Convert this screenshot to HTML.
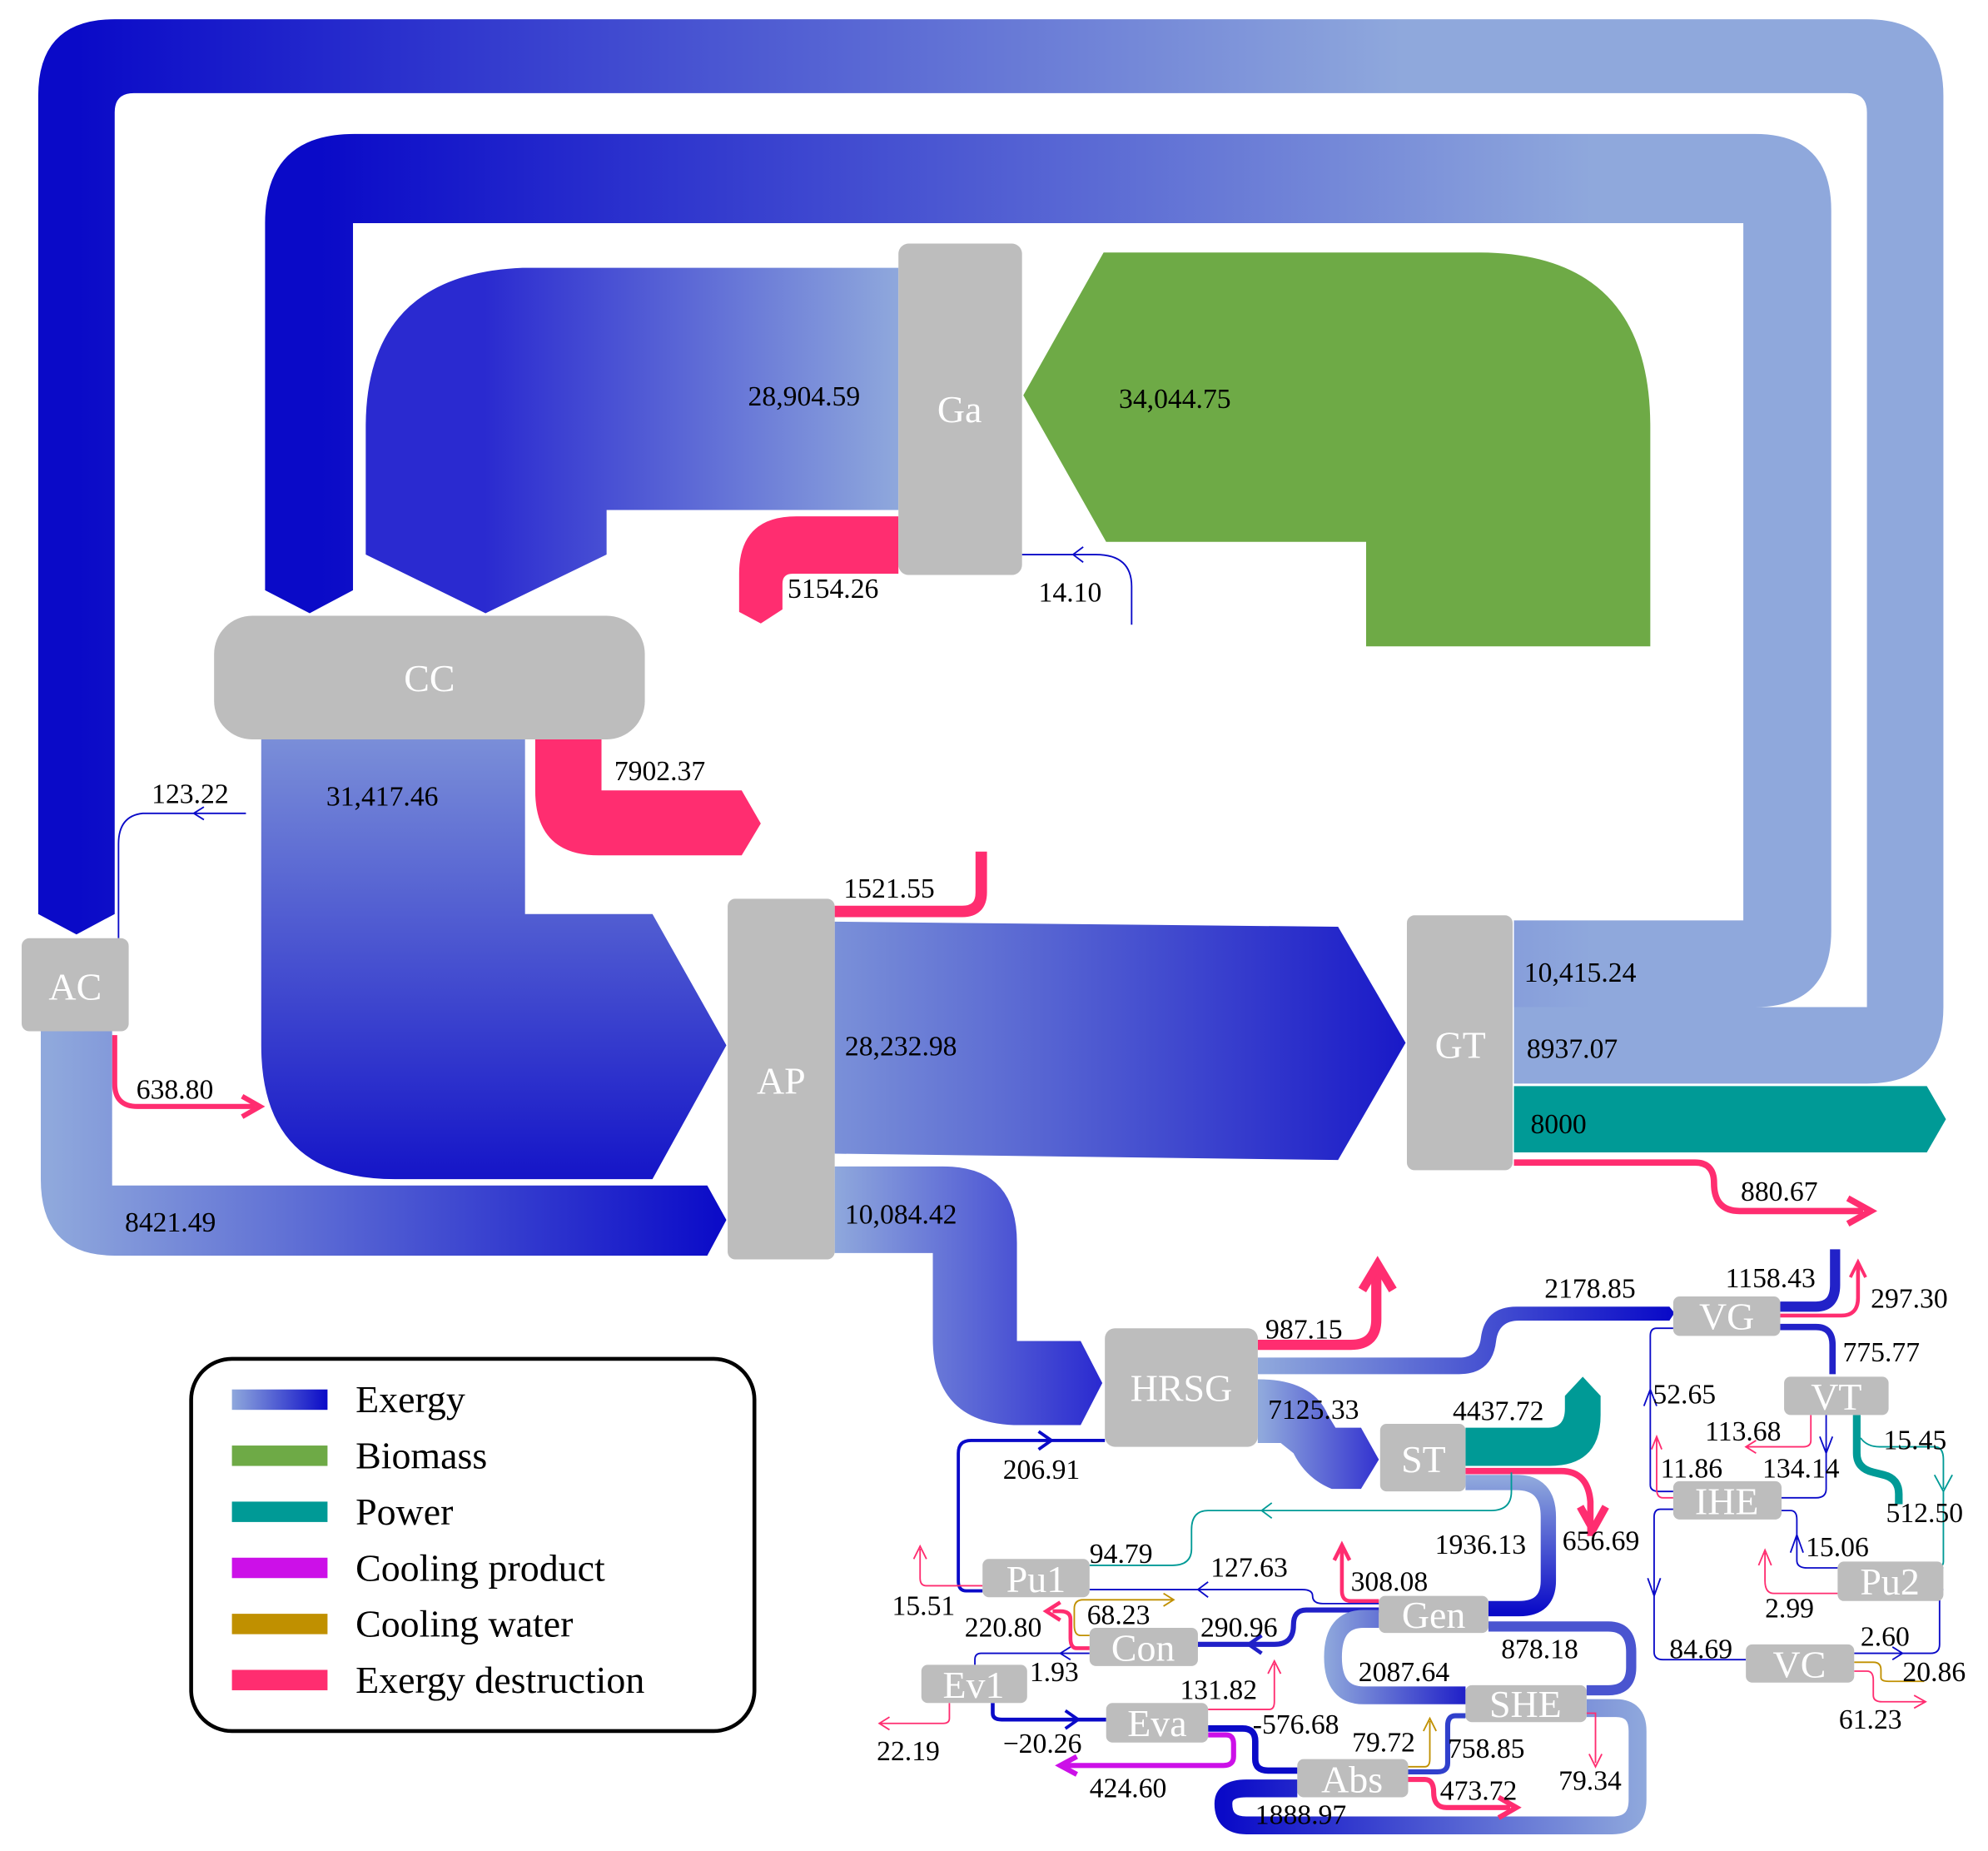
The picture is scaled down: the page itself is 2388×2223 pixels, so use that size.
<!DOCTYPE html>
<html><head><meta charset="utf-8"><style>
html,body{margin:0;padding:0;background:#fff;}
svg{display:block}
text{font-family:"Liberation Serif",serif;}
.l{font-size:22px;fill:#000}
.n{font-size:30px;fill:#fff}
.g{fill:#bdbdbd}
.t{fill:none;stroke-width:1.2}
</style></head><body>
<svg width="2388" height="2223" viewBox="0 0 1560 1452" xmlns="http://www.w3.org/2000/svg">
<defs>
<linearGradient id="hL" x1="0" x2="1" y1="0" y2="0"><stop offset="0" stop-color="#0a0ac8"/><stop offset="1" stop-color="#8fa8dc"/></linearGradient>
<linearGradient id="hR" x1="0" x2="1" y1="0" y2="0"><stop offset="0" stop-color="#8fa8dc"/><stop offset="1" stop-color="#0a0ac8"/></linearGradient>
<linearGradient id="o1" gradientUnits="userSpaceOnUse" x1="60" x2="1100" y1="0" y2="0"><stop offset="0" stop-color="#0a0ac8"/><stop offset="1" stop-color="#8fa8dc"/></linearGradient>
<linearGradient id="o2" gradientUnits="userSpaceOnUse" x1="250" x2="1250" y1="0" y2="0"><stop offset="0" stop-color="#0a0ac8"/><stop offset="1" stop-color="#8fa8dc"/></linearGradient>
<linearGradient id="ga" gradientUnits="userSpaceOnUse" x1="380" x2="705" y1="0" y2="0"><stop offset="0" stop-color="#2a2ad0"/><stop offset="1" stop-color="#8fa8dc"/></linearGradient>
<linearGradient id="cc" gradientUnits="userSpaceOnUse" x1="0" x2="0" y1="580" y2="925"><stop offset="0" stop-color="#7a8ed8"/><stop offset="1" stop-color="#1515c8"/></linearGradient>
<linearGradient id="ap" gradientUnits="userSpaceOnUse" x1="655" x2="1100" y1="0" y2="0"><stop offset="0" stop-color="#7a90d8"/><stop offset="1" stop-color="#1a1ac8"/></linearGradient>
<linearGradient id="ac" gradientUnits="userSpaceOnUse" x1="40" x2="570" y1="0" y2="0"><stop offset="0" stop-color="#8fa8dc"/><stop offset="1" stop-color="#0a0ac8"/></linearGradient>
<linearGradient id="hr" gradientUnits="userSpaceOnUse" x1="655" x2="865" y1="0" y2="0"><stop offset="0" stop-color="#8fa8dc"/><stop offset="1" stop-color="#2a2ad0"/></linearGradient>
<linearGradient id="vg" gradientUnits="userSpaceOnUse" x1="990" x2="1310" y1="0" y2="0"><stop offset="0" stop-color="#8fa8dc"/><stop offset="1" stop-color="#0a0ac8"/></linearGradient>
<linearGradient id="st" gradientUnits="userSpaceOnUse" x1="990" x2="1080" y1="0" y2="0"><stop offset="0" stop-color="#8fa8dc"/><stop offset="1" stop-color="#3535d0"/></linearGradient>
<linearGradient id="ge" gradientUnits="userSpaceOnUse" x1="0" x2="0" y1="1160" y2="1265"><stop offset="0" stop-color="#8fa8dc"/><stop offset="1" stop-color="#0a0ac8"/></linearGradient>
<linearGradient id="sh" gradientUnits="userSpaceOnUse" x1="960" x2="1290" y1="0" y2="0"><stop offset="0" stop-color="#0a0ac8"/><stop offset="1" stop-color="#8fa8dc"/></linearGradient>
<linearGradient id="gs" gradientUnits="userSpaceOnUse" x1="1040" x2="1150" y1="0" y2="0"><stop offset="0" stop-color="#8fa8dc"/><stop offset="1" stop-color="#2020c8"/></linearGradient>
</defs>

<path d="M1188,790 H1465 V88 Q1465,73 1450,73 H105 Q90,73 90,88 V717 L60,733 L30,717 V75 Q30,15 90,15 H1465 Q1525,15 1525,75 V790 Q1525,850 1465,850 H1188 Z" fill="url(#o1)"/>
<path d="M1188,722 H1368 V175 H277 V463 L243,481 L208,463 V175 Q208,105 278,105 H1377 Q1437,105 1437,165 V730 Q1437,790 1377,790 H1188 Z" fill="url(#o2)"/>
<path d="M866,198 H1160 Q1295,198 1295,335 V507 H1072 V425 H868 L803,310 Z" fill="#6eaa46"/>
<path d="M705,210 H410 Q287,215 287,335 V435 L381,481 L476,435 V400 H705 Z" fill="url(#ga)"/>
<path d="M705,405 H625 Q580,405 580,450 V480 L597,489 L614,478 V458 Q614,450 622,450 H705 Z" fill="#ff2d70"/>
<path class="t" d="M888,490 V460 Q888,435 860,435 H802 M850,429 L842,435 L850,441" stroke="#0a0ac8"/>
<path d="M205,580 H412 V717 H512 L570,820 L512,925 H310 Q205,925 205,820 Z" fill="url(#cc)"/>
<path d="M420,580 H472 V620 H582 L597,646 L582,671 H470 Q420,671 420,620 Z" fill="#ff2d70"/>
<path class="t" d="M193,638 H112 Q93,640 93,662 V736 M160,633 L152,638 L160,643" stroke="#0a0ac8"/>
<path d="M90,812 V850 Q90,868 108,868 H200" fill="none" stroke="#ff2d70" stroke-width="4"/>
<path d="M190,860 L204,868 L190,876" fill="none" stroke="#ff2d70" stroke-width="4"/>
<path d="M32,809 H88 V930 H555 L570,957 L555,985 H90 Q32,985 32,925 Z" fill="url(#ac)"/>
<path d="M655,715 H755 Q770,715 770,700 V668" fill="none" stroke="#ff2d70" stroke-width="9"/>
<path d="M655,723 L1050,727 L1103,818 L1050,910 L655,905 Z" fill="url(#ap)"/>
<path d="M1188,852 H1512 L1527,878 L1512,904 H1188 Z" fill="#009a96"/>
<path d="M1188,912 H1330 Q1345,912 1345,928 Q1345,950 1365,950 H1462" fill="none" stroke="#ff2d70" stroke-width="5"/>
<path d="M1450,940 L1468,950 L1450,960" fill="none" stroke="#ff2d70" stroke-width="5"/>
<path d="M655,915 H740 Q798,915 798,975 V1052 H848 L865,1085 L848,1118 H800 Q732,1118 732,1050 V983 H655 Z" fill="url(#hr)"/>

<path d="M987,1055 H1060 Q1080,1055 1080,1035 V998" fill="none" stroke="#ff2d70" stroke-width="8"/>
<path d="M1069,1012 L1081,992 L1093,1012" fill="none" stroke="#ff2d70" stroke-width="7"/>
<path d="M987,1065 H1145 Q1160,1065 1162,1050 Q1165,1025 1190,1025 H1310 L1314,1030 L1310,1036 H1192 Q1176,1036 1174,1052 Q1171,1078 1145,1078 H987 Z" fill="url(#vg)"/>
<path d="M987,1082 Q1030,1082 1042,1110 L1048,1120 H1068 L1082,1145 L1068,1168 H1045 Q1025,1160 1015,1140 L1005,1132 H987 Z" fill="url(#st)"/>
<path d="M1150,1120 H1215 Q1228,1120 1228,1105 V1095 L1242,1080 L1256,1095 V1110 Q1256,1150 1216,1150 H1150 Z" fill="#009a96"/>
<path d="M1150,1154 H1225 Q1246,1154 1248,1178 V1205" fill="none" stroke="#ff2d70" stroke-width="5"/>
<path d="M1240,1182 L1250,1200 L1260,1182" fill="none" stroke="#ff2d70" stroke-width="6"/>
<path d="M1150,1163 H1190 Q1215,1163 1215,1190 V1240 Q1215,1262 1192,1262 H1168" fill="none" stroke="url(#ge)" stroke-width="12"/>
<path class="t" d="M1186,1155 V1170 Q1186,1185 1170,1185 H948 Q935,1185 935,1200 V1215 Q935,1228 920,1228 H855 M998,1179 L990,1185 L998,1191" stroke="#009a96"/>
<path d="M1082,1256 H1060 Q1053,1256 1053,1248 V1215" fill="none" stroke="#ff2d70" stroke-width="3"/>
<path d="M1047,1224 L1053,1212 L1059,1224" fill="none" stroke="#ff2d70" stroke-width="3"/>
<path class="t" d="M1082,1258 H1038 Q1030,1258 1030,1252 Q1030,1247 1022,1247 H855 M948,1241 L940,1247 L948,1253" stroke="#0a0ac8" stroke-width="2"/>
<path d="M1082,1263 H1025 Q1015,1263 1015,1275 Q1015,1290 1000,1290 H940" fill="none" stroke="#2020c8" stroke-width="4"/>
<path d="M990,1283 L980,1290 L990,1297" fill="none" stroke="#2020c8" stroke-width="3"/>
<path d="M1082,1270 H1070 Q1046,1270 1046,1300 Q1046,1330 1070,1330 H1150" fill="none" stroke="url(#gs)" stroke-width="14"/>
<path d="M1168,1276 H1262 Q1280,1276 1280,1296 V1308 Q1280,1326 1262,1326 H1245" fill="none" stroke="#4a55d0" stroke-width="8"/>
<path d="M1245,1340 H1268 Q1285,1340 1285,1358 V1412 Q1285,1432 1265,1432 H978 Q960,1432 960,1415 Q960,1403 978,1403 H1018" fill="none" stroke="url(#sh)" stroke-width="14"/>
<path class="t" d="M1245,1344 H1252 V1383 M1247,1376 L1252,1386 L1257,1376" stroke="#ff2d70"/>
<path d="M1150,1346 H1142 Q1136,1346 1136,1354 V1383 Q1136,1390 1128,1390 H1105" fill="none" stroke="#3040cc" stroke-width="4"/>
<path class="t" d="M1105,1386 H1118 Q1122,1386 1122,1380 V1350 M1117,1358 L1122,1348 L1127,1358" stroke="#c09000"/>
<path d="M1105,1396 H1118 Q1125,1396 1125,1406 Q1125,1418 1135,1418 H1185" fill="none" stroke="#ff2d70" stroke-width="4"/>
<path d="M1176,1410 L1190,1418 L1176,1426" fill="none" stroke="#ff2d70" stroke-width="4"/>
<path d="M948,1356 H975 Q985,1356 985,1366 V1380 Q985,1389 995,1389 H1018" fill="none" stroke="#0a0ac8" stroke-width="5"/>
<path d="M948,1361 H962 Q968,1361 968,1368 V1378 Q968,1385 960,1385 H836" fill="none" stroke="#cc10e8" stroke-width="4"/>
<path d="M845,1378 L832,1385 L845,1392" fill="none" stroke="#cc10e8" stroke-width="4"/>
<path class="t" d="M948,1341 H996 Q1000,1341 1000,1335 V1305 M995,1313 L1000,1303 L1005,1313" stroke="#ff2d70"/>
<path d="M779,1336 V1344 Q779,1349 786,1349 H868" fill="none" stroke="#0a0ac8" stroke-width="3"/>
<path d="M836,1342 L846,1349 L836,1356" fill="none" stroke="#0a0ac8" stroke-width="2.5"/>
<path class="t" d="M745,1336 V1348 Q745,1352 740,1352 H690 M698,1347 L690,1352 L698,1357" stroke="#ff2d70"/>
<path class="t" d="M855,1297 H770 Q765,1297 765,1302 V1306 M840,1292 L832,1297 L840,1302" stroke="#0a0ac8"/>
<path d="M855,1293 H845 Q840,1293 840,1285 V1270 Q840,1264 832,1264 H826" fill="none" stroke="#ff2d70" stroke-width="3"/>
<path d="M832,1257 L821,1264 L832,1271" fill="none" stroke="#ff2d70" stroke-width="3"/>
<path class="t" d="M855,1283 H848 Q843,1283 843,1275 V1262 Q843,1255 850,1255 H920 M913,1250 L921,1255 L913,1260" stroke="#c09000"/>
<path d="M771,1248 H758 Q752,1248 752,1240 V1140 Q752,1130 762,1130 H867" fill="none" stroke="#0a0ac8" stroke-width="2.5"/>
<path d="M815,1123 L825,1130 L815,1137" fill="none" stroke="#0a0ac8" stroke-width="2.5"/>
<path class="t" d="M771,1244 H727 Q722,1244 722,1238 V1215 M717,1223 L722,1213 L727,1223" stroke="#ff2d70"/>

<path d="M1397,1025 H1425 Q1440,1025 1440,1008 V980" fill="none" stroke="#2222c8" stroke-width="8"/>
<path d="M1397,1032 H1445 Q1458,1032 1458,1018 V992" fill="none" stroke="#ff2d70" stroke-width="3"/>
<path d="M1452,1002 L1458,990 L1464,1002" fill="none" stroke="#ff2d70" stroke-width="2.5"/>
<path d="M1397,1041 H1425 Q1438,1041 1438,1055 V1078" fill="none" stroke="#2222c8" stroke-width="5"/>
<path class="t" d="M1313,1042 H1300 Q1295,1042 1295,1048 V1165 Q1295,1170 1302,1170 H1313 M1290,1103 L1295,1090 L1300,1103" stroke="#0a0ac8"/>
<path class="t" d="M1313,1184 H1303 Q1298,1184 1298,1190 V1296 Q1298,1302 1305,1302 H1370 M1293,1238 L1298,1252 L1303,1238" stroke="#0a0ac8"/>
<path class="t" d="M1313,1175 H1305 Q1300,1175 1300,1168 V1128 M1296,1137 L1300,1127 L1304,1137" stroke="#ff2d70"/>
<path class="t" d="M1421,1110 V1130 Q1421,1135 1415,1135 H1370 M1378,1130 L1370,1135 L1378,1140" stroke="#ff2d70"/>
<path class="t" d="M1433,1110 V1168 Q1433,1175 1425,1175 H1398 M1428,1127 L1433,1140 L1438,1127" stroke="#0a0ac8"/>
<path d="M1457,1110 V1140 Q1457,1152 1470,1155 L1478,1157 Q1490,1160 1490,1172 V1180" fill="none" stroke="#009a96" stroke-width="6"/>
<path class="t" d="M1460,1128 Q1465,1135 1475,1135 H1518 Q1525,1135 1525,1145 V1168 M1518,1157 L1525,1170 L1532,1157" stroke="#009a96" stroke-width="1.8"/>
<path class="t" d="M1525,1170 V1225 Q1525,1230 1518,1230 H1525" stroke="#009a96"/>
<path class="t" d="M1398,1185 H1405 Q1410,1185 1410,1192 V1224 Q1410,1230 1418,1230 H1442 M1405,1218 L1410,1204 L1415,1218" stroke="#0a0ac8"/>
<path class="t" d="M1442,1250 H1392 Q1385,1250 1385,1240 V1218 M1380,1228 L1385,1216 L1390,1228" stroke="#ff2d70"/>
<path class="t" d="M1525,1247 Q1522,1247 1522,1253 V1290 Q1522,1297 1515,1297 H1455 M1485,1292 L1493,1297 L1485,1302" stroke="#0a0ac8"/>
<path class="t" d="M1455,1304 H1470 Q1476,1304 1476,1310 V1316 Q1476,1319 1482,1319 H1510" stroke="#c09000" stroke-width="1.5"/>
<path class="t" d="M1455,1311 H1465 Q1470,1311 1470,1318 V1330 Q1470,1335 1477,1335 H1510 M1502,1330 L1511,1335 L1502,1340" stroke="#ff2d70"/>

<rect class="g" x="705" y="191" width="97" height="260" rx="8"/>
<rect class="g" x="168" y="483" width="338" height="97" rx="30"/>
<rect class="g" x="17" y="736" width="84" height="73" rx="6"/>
<rect class="g" x="571" y="705" width="84" height="283" rx="6"/>
<rect class="g" x="1104" y="718" width="83" height="200" rx="6"/>
<rect class="g" x="867" y="1042" width="120" height="93" rx="8"/>
<rect class="g" x="1083" y="1117" width="67" height="53" rx="5"/>
<rect class="g" x="1082" y="1252" width="86" height="29" rx="5"/>
<rect class="g" x="1150" y="1322" width="95" height="29" rx="5"/>
<rect class="g" x="1018" y="1380" width="87" height="30" rx="5"/>
<rect class="g" x="868" y="1336" width="80" height="31" rx="5"/>
<rect class="g" x="723" y="1306" width="83" height="30" rx="5"/>
<rect class="g" x="855" y="1277" width="85" height="30" rx="5"/>
<rect class="g" x="771" y="1223" width="84" height="30" rx="5"/>
<rect class="g" x="1313" y="1017" width="84" height="31" rx="5"/>
<rect class="g" x="1400" y="1080" width="82" height="30" rx="5"/>
<rect class="g" x="1313" y="1162" width="85" height="30" rx="5"/>
<rect class="g" x="1442" y="1225" width="83" height="31" rx="5"/>
<rect class="g" x="1370" y="1290" width="85" height="30" rx="5"/>

<g class="n">
<text x="753" y="331" text-anchor="middle">Ga</text>
<text x="337" y="542" text-anchor="middle">CC</text>
<text x="59" y="784" text-anchor="middle">AC</text>
<text x="613" y="858" text-anchor="middle">AP</text>
<text x="1146" y="830" text-anchor="middle">GT</text>
<text x="927" y="1099" text-anchor="middle">HRSG</text>
<text x="1117" y="1155" text-anchor="middle">ST</text>
<text x="1125" y="1277" text-anchor="middle">Gen</text>
<text x="1197" y="1347" text-anchor="middle">SHE</text>
<text x="1061" y="1406" text-anchor="middle">Abs</text>
<text x="908" y="1362" text-anchor="middle">Eva</text>
<text x="764" y="1332" text-anchor="middle">Ev1</text>
<text x="897" y="1303" text-anchor="middle">Con</text>
<text x="813" y="1249" text-anchor="middle">Pu1</text>
<text x="1355" y="1043" text-anchor="middle">VG</text>
<text x="1441" y="1106" text-anchor="middle">VT</text>
<text x="1355" y="1188" text-anchor="middle">IHE</text>
<text x="1483" y="1251" text-anchor="middle">Pu2</text>
<text x="1412" y="1316" text-anchor="middle">VC</text>
</g>

<g class="l">
<text x="587" y="318">28,904.59</text>
<text x="878" y="320">34,044.75</text>
<text x="618" y="469">5154.26</text>
<text x="815" y="472">14.10</text>
<text x="482" y="612">7902.37</text>
<text x="119" y="630">123.22</text>
<text x="256" y="632">31,417.46</text>
<text x="662" y="704">1521.55</text>
<text x="107" y="862">638.80</text>
<text x="98" y="966">8421.49</text>
<text x="663" y="828">28,232.98</text>
<text x="663" y="960">10,084.42</text>
<text x="1196" y="770">10,415.24</text>
<text x="1198" y="830">8937.07</text>
<text x="1201" y="889">8000</text>
<text x="1366" y="942">880.67</text>
<text x="993" y="1050">987.15</text>
<text x="1212" y="1018">2178.85</text>
<text x="1354" y="1010">1158.43</text>
<text x="1468" y="1026">297.30</text>
<text x="1446" y="1068">775.77</text>
<text x="995" y="1113">7125.33</text>
<text x="1140" y="1114">4437.72</text>
<text x="1297" y="1101">52.65</text>
<text x="1338" y="1130">113.68</text>
<text x="1478" y="1137">15.45</text>
<text x="1303" y="1159">11.86</text>
<text x="1383" y="1159">134.14</text>
<text x="1480" y="1194">512.50</text>
<text x="787" y="1160">206.91</text>
<text x="1126" y="1219">1936.13</text>
<text x="1226" y="1216">656.69</text>
<text x="1417" y="1221">15.06</text>
<text x="855" y="1226">94.79</text>
<text x="950" y="1237">127.63</text>
<text x="1060" y="1248">308.08</text>
<text x="700" y="1267">15.51</text>
<text x="853" y="1274">68.23</text>
<text x="757" y="1284">220.80</text>
<text x="942" y="1284">290.96</text>
<text x="1385" y="1269">2.99</text>
<text x="1178" y="1301">878.18</text>
<text x="1460" y="1291">2.60</text>
<text x="1310" y="1301">84.69</text>
<text x="1493" y="1319">20.86</text>
<text x="808" y="1319">1.93</text>
<text x="1066" y="1319">2087.64</text>
<text x="926" y="1333">131.82</text>
<text x="1443" y="1356">61.23</text>
<text x="787" y="1375">−20.26</text>
<text x="983" y="1360">-576.68</text>
<text x="1061" y="1374">79.72</text>
<text x="1136" y="1379">758.85</text>
<text x="688" y="1381">22.19</text>
<text x="1223" y="1404">79.34</text>
<text x="855" y="1410">424.60</text>
<text x="1130" y="1412">473.72</text>
<text x="985" y="1431">1888.97</text>
</g>

<rect x="150" y="1066" width="442" height="292" rx="32" fill="#fff" stroke="#000" stroke-width="3"/>
<rect x="182" y="1090" width="75" height="16" fill="url(#hR)"/>
<rect x="182" y="1134" width="75" height="16" fill="#6eaa46"/>
<rect x="182" y="1178" width="75" height="16" fill="#009a96"/>
<rect x="182" y="1222" width="75" height="16" fill="#cc10e8"/>
<rect x="182" y="1266" width="75" height="16" fill="#c09000"/>
<rect x="182" y="1310" width="75" height="16" fill="#ff2d70"/>
<g style="font-size:30px;fill:#000">
<text x="279" y="1108">Exergy</text>
<text x="279" y="1152">Biomass</text>
<text x="279" y="1196">Power</text>
<text x="279" y="1240">Cooling product</text>
<text x="279" y="1284">Cooling water</text>
<text x="279" y="1328">Exergy destruction</text>
</g>
</svg>
</body></html>
